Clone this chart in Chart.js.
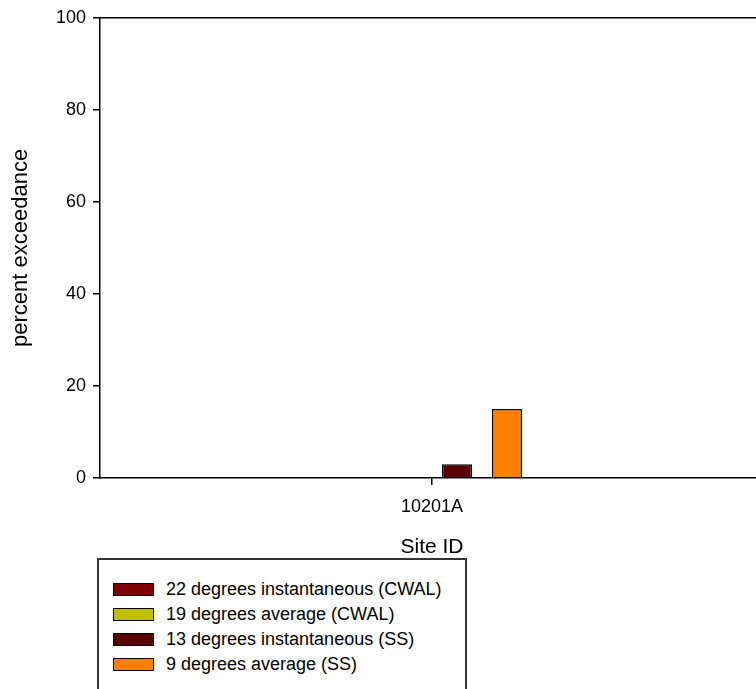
<!DOCTYPE html>
<html>
<head>
<meta charset="utf-8">
<script src="https://cdn.jsdelivr.net/npm/chart.js@4"></script>
<style>
  html, body { margin: 0; padding: 0; background: #fff; overflow: hidden; }
  #wrap { position: relative; width: 756px; height: 689px; overflow: hidden; }
  #chart { position: absolute; left: 0; top: 0; }
  #legend {
    position: absolute; left: 97px; top: 558px; width: 366px; height: 150px;
    border: 2px solid #333; background: #fff;
    font-family: "Liberation Sans", Arial, sans-serif; font-size: 18px; color: #000;
  }
  .item { position: absolute; left: 14px; height: 20px; display: flex; align-items: center; white-space: nowrap; }
  .swatch { width: 39px; height: 11px; border: 1.5px solid #000; margin-right: 12px; }
</style>
</head>
<body>
<div id="wrap">
  <canvas id="chart" width="780" height="689"></canvas>
  <div id="legend"></div>
</div>
<script>
// chart data
const categories = ['10201A'];
const deg22Inst = [0];
const deg19Avg = [0];
const deg13Inst = [3];
const deg9Avg = [15];
const yTicks = [0, 20, 40, 60, 80, 100];

const seriesLabels = [
  '22 degrees instantaneous (CWAL)',
  '19 degrees average (CWAL)',
  '13 degrees instantaneous (SS)',
  '9 degrees average (SS)'
];
const seriesColors = ['#7f0000', '#bfbf00', '#5a0000', '#ff8000'];
const seriesValues = [deg22Inst, deg19Avg, deg13Inst, deg9Avg];

const font = '"Liberation Sans", Arial, sans-serif';
Chart.defaults.color = '#000';
Chart.defaults.font.family = font;

// draws the top edge of the plot frame
const frameTop = {
  id: 'frameTop',
  afterDraw(chart) {
    const { ctx, chartArea } = chart;
    ctx.save();
    ctx.strokeStyle = '#000';
    ctx.lineWidth = 1.5;
    ctx.beginPath();
    ctx.moveTo(chartArea.left, chartArea.top);
    ctx.lineTo(chartArea.right, chartArea.top);
    ctx.stroke();
    ctx.restore();
  }
};

const datasets = seriesLabels.map((label, i) => ({
  label,
  data: seriesValues[i],
  backgroundColor: seriesColors[i],
  borderColor: '#000',
  borderWidth: 1.5,
  categoryPercentage: 200 / 664,
  barPercentage: 0.6
}));

new Chart(document.getElementById('chart').getContext('2d'), {
  type: 'bar',
  data: { labels: categories, datasets },
  options: {
    responsive: false,
    animation: false,
    devicePixelRatio: 1,
    layout: { padding: { top: 16, left: 0, right: 16, bottom: 129 } },
    plugins: { legend: { display: false }, tooltip: { enabled: false } },
    scales: {
      x: {
        grid: { offset: false, drawOnChartArea: false, drawTicks: true, tickLength: 7, color: '#000', lineWidth: 1.5 },
        border: { display: true, color: '#000', width: 1.5 },
        ticks: { font: { size: 18 }, padding: 11, maxRotation: 0 },
        title: { display: true, text: 'Site ID', font: { size: 21 }, padding: { top: 0, bottom: 0 } },
        afterFit(scale) { scale.height = 82; }
      },
      y: {
        min: 0,
        max: 100,
        afterBuildTicks(scale) { scale.ticks = yTicks.map(v => ({ value: v })); },
        grid: { drawOnChartArea: false, drawTicks: true, tickLength: 7, color: '#000', lineWidth: 1.5 },
        border: { display: true, color: '#000', width: 1.5 },
        ticks: { font: { size: 18 }, padding: 7 },
        title: { display: true, text: 'percent exceedance', font: { size: 22 }, padding: { top: 8, bottom: 0 } },
        afterFit(scale) { scale.width = 100; }
      }
    }
  },
  plugins: [frameTop]
});

// legend box below the chart
const legend = document.getElementById('legend');
seriesLabels.forEach((label, i) => {
  const item = document.createElement('div');
  item.className = 'item';
  item.style.top = (19 + i * 25.3) + 'px';
  item.innerHTML = `<span class="swatch" style="background:${seriesColors[i]}"></span><span>${label}</span>`;
  legend.appendChild(item);
});
</script>
</body>
</html>
